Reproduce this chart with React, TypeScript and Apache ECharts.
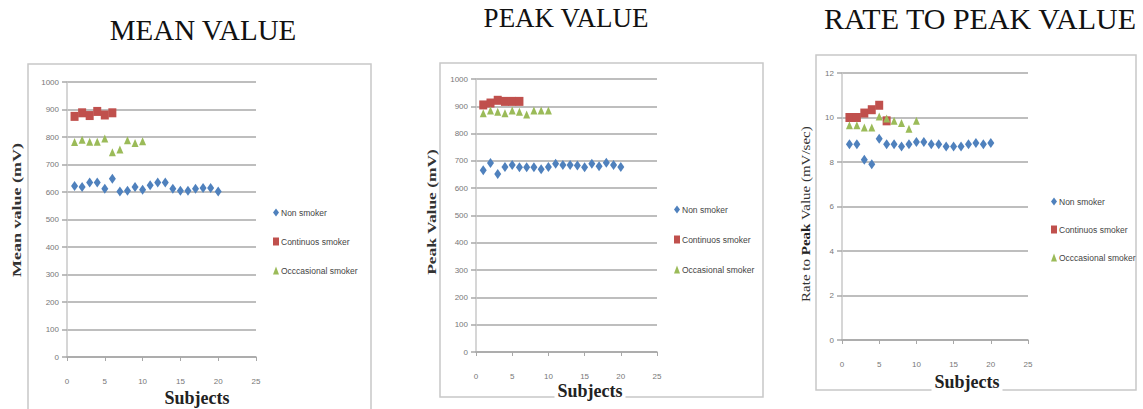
import React, { useEffect, useRef } from "react";
import * as echarts from "echarts";

// ---- data ----
const nonSmokerSubjects = [1, 2, 3, 4, 5, 6, 7, 8, 9, 10, 11, 12, 13, 14, 15, 16, 17, 18, 19, 20];
const continuousSubjects = [1, 2, 3, 4, 5, 6];
const occasionalSubjects = [1, 2, 3, 4, 5, 6, 7, 8, 9, 10];

const meanNonSmoker = [622, 618, 635, 635, 612, 648, 602, 605, 618, 608, 625, 635, 635, 612, 605, 605, 612, 615, 615, 602];
const meanContinuous = [875, 888, 878, 893, 880, 888];
const meanOccasional = [782, 790, 783, 783, 795, 745, 755, 788, 778, 785];

const peakNonSmoker = [666, 692, 652, 678, 685, 677, 677, 677, 669, 678, 690, 685, 685, 683, 677, 690, 680, 693, 685, 678];
const peakContinuous = [905, 912, 922, 918, 918, 918];
const peakOccasional = [875, 885, 880, 875, 885, 880, 870, 885, 885, 885];

const rateNonSmoker = [8.8, 8.8, 8.1, 7.9, 9.05, 8.8, 8.8, 8.7, 8.8, 8.9, 8.9, 8.8, 8.8, 8.7, 8.7, 8.7, 8.8, 8.85, 8.8, 8.85];
const rateContinuous = [10.0, 10.0, 10.2, 10.35, 10.55, 9.85];
const rateOccasional = [9.65, 9.65, 9.55, 9.55, 10.05, 9.95, 9.85, 9.75, 9.5, 9.85];

const panelTitles = ["MEAN VALUE", "PEAK VALUE", "RATE TO PEAK VALUE"];
const yAxisNames = ["Mean value (mV)", "Peak Value (mV)", "Rate to Peak Value (mV/sec)"];
const xAxisName = "Subjects";
const legendNames = [
  ["Non smoker", "Continuos smoker", "Occcasional smoker"],
  ["Non smoker", "Continuos smoker", "Occasional smoker"],
  ["Non smoker", "Continuos smoker", "Occcasional smoker"],
];
const yMax = [1000, 1000, 12];
const yInterval = [100, 100, 2];

const pair = (xs: number[], ys: number[]) => xs.map((x, i) => [x, ys[i]]);

const COLORS = ["#4F81BD", "#C0504D", "#9BBB59"];
const SYMBOLS = ["diamond", "rect", "triangle"];
const SIZES = [[7, 10], [8, 9], [7, 8]];

// layout
const grids = [
  { left: 67, top: 82, width: 189, height: 275 },
  { left: 476, top: 79, width: 181, height: 273 },
  { left: 842, top: 73, width: 186, height: 267 },
];
const boxes = [
  { x: 28, y: 64, w: 343, h: 360 },
  { x: 440, y: 63, w: 323, h: 334 },
  { x: 816, y: 55, w: 320, h: 335 },
];
const titlePos = [[203, 30], [566, 18], [980, 18]];
const titleSize = [29, 27, 30];
const yNamePos = [[17, 210], [432, 212], [806, 214]];
const yNameScale = [1.5, 1.45, 1.25];
const subjPos = [[197, 398], [590, 391], [967, 382]];
const legendPos = [
  { left: 268, top: 203, gap: 20 },
  { left: 669, top: 200, gap: 21 },
  { left: 1046, top: 192, gap: 19 },
];

const SERIF = "'Liberation Serif', 'Times New Roman', serif";

export default function App() {
  const ref = useRef<HTMLDivElement>(null);
  useEffect(() => {
    if (!ref.current) return;
    const chart = echarts.init(ref.current, null, { renderer: "svg" });
    const datasets = [
      [meanNonSmoker, meanContinuous, meanOccasional],
      [peakNonSmoker, peakContinuous, peakOccasional],
      [rateNonSmoker, rateContinuous, rateOccasional],
    ];
    const subjectLists = [nonSmokerSubjects, continuousSubjects, occasionalSubjects];

    const series: any[] = [];
    datasets.forEach((set, p) => {
      set.forEach((vals, k) => {
        series.push({
          type: "scatter",
          name: legendNames[p][k],
          xAxisIndex: p,
          yAxisIndex: p,
          symbol: SYMBOLS[k],
          symbolSize: SIZES[k],
          itemStyle: { color: COLORS[k], opacity: 1 },
          data: pair(subjectLists[k], vals),
          z: 5,
        });
      });
    });

    const graphic: any[] = [];
    boxes.forEach((b) => {
      graphic.push({
        type: "rect",
        shape: { x: b.x, y: b.y, width: b.w, height: b.h },
        style: { fill: "none", stroke: "#c8c8c8", lineWidth: 1.5 },
        z: 0,
      });
    });
    panelTitles.forEach((t, p) => {
      graphic.push({
        type: "text",
        x: titlePos[p][0],
        y: titlePos[p][1],
        style: {
          text: t,
          fill: "#111",
          font: `${titleSize[p]}px ${SERIF}`,
          textAlign: "center",
          textVerticalAlign: "middle",
        },
      });
    });
    yAxisNames.forEach((t, p) => {
      const isRate = p === 2;
      const parts = t.split("Peak");
      graphic.push({
        type: "text",
        x: yNamePos[p][0],
        y: yNamePos[p][1],
        rotation: Math.PI / 2,
        scaleX: yNameScale[p],
        style: isRate
          ? {
              text: `{a|${parts[0]}}{b|Peak}{a|${parts[1]}}`,
              rich: {
                a: { font: `12px ${SERIF}`, fill: "#333" },
                b: { font: `bold 12px ${SERIF}`, fill: "#222" },
              },
              textAlign: "center",
              textVerticalAlign: "middle",
            }
          : {
              text: t,
              fill: "#333",
              font: `bold 12px ${SERIF}`,
              textAlign: "center",
              textVerticalAlign: "middle",
            },
      });
    });
    subjPos.forEach((pos) => {
      graphic.push({
        type: "text",
        x: pos[0],
        y: pos[1],
        z: 10,
        style: {
          text: xAxisName,
          fill: "#222",
          font: `bold 18px ${SERIF}`,
          textAlign: "center",
          textVerticalAlign: "middle",
          backgroundColor: "#fff",
          padding: [0, 3, 3, 3],
        },
      });
    });

    const labelFont = "'Liberation Sans Narrow', 'Liberation Sans', sans-serif";

    chart.setOption({
      animation: false,
      backgroundColor: "#fff",
      grid: grids.map((g) => ({ ...g, containLabel: false })),
      xAxis: grids.map((_, p) => ({
        type: "value",
        gridIndex: p,
        min: 0,
        max: 25,
        interval: 5,
        axisLine: { show: true, lineStyle: { color: "#a8a8a8", width: 1.5 } },
        axisTick: { show: true, length: 4, lineStyle: { color: "#a8a8a8" } },
        axisLabel: { fontSize: 8, color: "#777", margin: 20, fontFamily: labelFont },
        splitLine: { show: false },
      })),
      yAxis: grids.map((_, p) => ({
        type: "value",
        gridIndex: p,
        min: 0,
        max: yMax[p],
        interval: yInterval[p],
        axisLine: { show: true, lineStyle: { color: "#c8c8c8", width: 1.5 } },
        axisTick: { show: true, length: 5, lineStyle: { color: "#a8a8a8", width: 1.5 } },
        axisLabel: {
          fontSize: 8,
          color: "#777",
          margin: 8,
          fontFamily: labelFont,
          formatter: (v: number) => String(v),
        },
        splitLine: { show: true, lineStyle: { color: "#a8a8a8", width: 1.5 } },
      })),
      legend: legendPos.map((lp, p) => ({
        orient: "vertical",
        left: lp.left,
        top: lp.top,
        itemGap: lp.gap,
        itemWidth: 6,
        itemHeight: 8,
        selectedMode: false,
        textStyle: { fontSize: 8.5, color: "#444", fontFamily: labelFont, padding: [0, 0, 0, -3] },
        data: legendNames[p].map((n, k) => ({ name: n, icon: SYMBOLS[k], itemStyle: { color: COLORS[k] } })),
      })),
      graphic,
      series,
    });
    return () => chart.dispose();
  }, []);
  return (
    <div
      ref={ref}
      style={{ position: "absolute", left: 0, top: 0, width: 1143, height: 409, background: "#fff" }}
    />
  );
}
